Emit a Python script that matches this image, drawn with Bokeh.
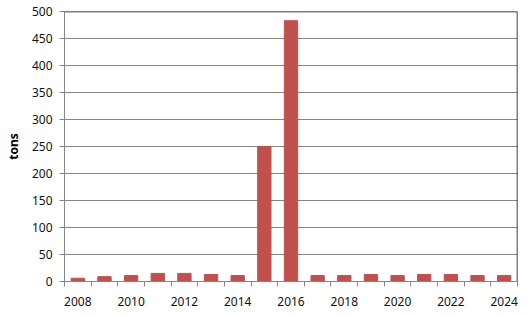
from bokeh.plotting import figure
from bokeh.models import FixedTicker, Range1d, Span, ColumnDataSource
from bokeh.embed import file_html
from bokeh.resources import INLINE

years = [2008, 2009, 2010, 2011, 2012, 2013, 2014, 2015, 2016,
         2017, 2018, 2019, 2020, 2021, 2022, 2023, 2024]
tons = [6, 9, 11, 15, 15, 13, 11, 250, 483,
        11, 11, 13, 11, 13, 13, 11, 11]
label_years = [2008, 2010, 2012, 2014, 2016, 2018, 2020, 2022, 2024]
y_ticks = [0, 50, 100, 150, 200, 250, 300, 350, 400, 450, 500]

BAR = "#C0504D"
GRID = "#868686"
FONT = "Noto Sans"

src = ColumnDataSource(dict(x=years, top=tons))

p = figure(width=531, height=315, output_backend="svg", toolbar_location=None,
           x_range=Range1d(years[0] - 0.5, years[-1] + 0.5),
           y_range=Range1d(0, 500),
           min_border_left=64, min_border_right=14,
           min_border_top=11, min_border_bottom=34)
p.vbar(x="x", top="top", width=0.5, bottom=0, color=BAR, source=src)

p.outline_line_color = None
p.background_fill_color = "white"
p.border_fill_color = "white"

# x axis
boundaries = [y - 0.5 for y in years] + [years[-1] + 0.5]
p.xaxis.ticker = FixedTicker(ticks=label_years, minor_ticks=boundaries)
p.xaxis.major_tick_out = 0
p.xaxis.major_tick_in = 0
p.xaxis.minor_tick_out = 5
p.xaxis.minor_tick_in = 0
p.xaxis.minor_tick_line_color = GRID
p.xaxis.axis_line_color = GRID
p.xaxis.major_label_standoff = 10
p.xaxis.major_label_text_font = FONT
p.xaxis.major_label_text_font_size = "12px"
p.xaxis.major_label_text_color = "#111111"
p.xgrid.grid_line_color = None

# y axis
p.yaxis.ticker = FixedTicker(ticks=y_ticks)
p.yaxis.minor_tick_line_color = None
p.yaxis.major_tick_out = 5
p.yaxis.major_tick_in = 0
p.yaxis.major_tick_line_color = GRID
p.yaxis.axis_line_color = GRID
p.yaxis.major_label_standoff = 7
p.yaxis.major_label_text_font = FONT
p.yaxis.major_label_text_font_size = "12px"
p.yaxis.major_label_text_color = "#111111"
p.yaxis.axis_label = "tons"
p.yaxis.axis_label_text_font = FONT
p.yaxis.axis_label_text_font_size = "12px"
p.yaxis.axis_label_text_font_style = "bold"
p.yaxis.axis_label_text_color = "#000000"
p.yaxis.axis_label_standoff = 7
p.ygrid.grid_line_color = GRID
p.ygrid.grid_line_width = 1

p.add_layout(Span(location=500, dimension="width", line_color="black", line_width=1.5))
p.add_layout(Span(location=years[-1] + 0.5, dimension="height", line_color="black", line_width=1.5))

open("out.html", "w").write(file_html(p, INLINE))
